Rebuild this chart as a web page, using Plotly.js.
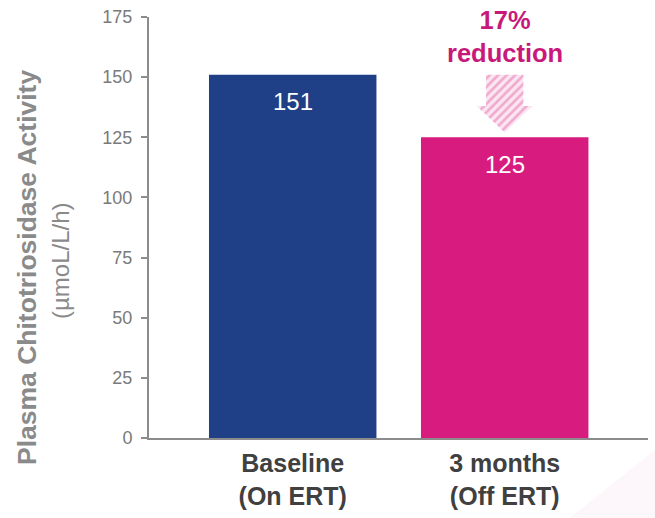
<!DOCTYPE html>
<html>
<head>
<meta charset="utf-8">
<script src="https://cdn.plot.ly/plotly-3.0.1.min.js"></script>
<style>
  html, body { margin: 0; padding: 0; background: #ffffff; }
  #chart { width: 655px; height: 518px; }
</style>
</head>
<body>
<div id="chart"></div>
<script>
// Plasma chitotriosidase activity before and after stopping ERT
const categories = ['Baseline<br>(On ERT)', '3 months<br>(Off ERT)'];
const values = [151, 125];
const barColors = ['#1f3f87', '#d81b7f'];
const yTicks = [0, 25, 50, 75, 100, 125, 150, 175];
const changeLabel = '17%<br>reduction';

const xs = categories.map((_, i) => i);
const FONT = 'Liberation Sans';

// Hatched down-arrow between the two bar heights, centred on the second bar
const arrowTop = values[0];
const arrowTip = values[1] + 2;
const arrowNeck = arrowTip + 11;
const cx = xs[1], shaftW = 0.088, headW = 0.132;
const arrowX = [cx - shaftW, cx + shaftW, cx + shaftW, cx + headW, cx, cx - headW, cx - shaftW, cx - shaftW];
const arrowY = [arrowTop, arrowTop, arrowNeck, arrowNeck, arrowTip, arrowNeck, arrowNeck, arrowTop];

const traces = [
  {
    type: 'bar',
    x: xs,
    y: values,
    width: 0.79,
    marker: { color: barColors, line: { width: 0 } },
    hoverinfo: 'skip'
  },
  {
    type: 'scatter',
    mode: 'lines',
    x: arrowX,
    y: arrowY,
    fill: 'toself',
    fillcolor: '#fbe1ee',
    fillpattern: { shape: '/', fgcolor: '#f0a8ce', bgcolor: '#fbe6f1', size: 6, solidity: 0.42 },
    line: { width: 0, color: 'rgba(0,0,0,0)' },
    hoverinfo: 'skip'
  }
];

const annotations = values.map((v, i) => ({
  x: xs[i], y: v, xref: 'x', yref: 'y',
  text: String(v), showarrow: false,
  yanchor: 'middle', yshift: -27,
  font: { family: FONT, size: 24, color: '#ffffff' }
}));

annotations.push({
  x: xs[1], y: 1, xref: 'x', yref: 'paper',
  text: '<b>' + changeLabel + '</b>', showarrow: false,
  yanchor: 'middle', yshift: -19,
  font: { family: FONT, size: 25.5, color: '#c8197a' }
});

const W = 655, H = 518, M = { l: 149, r: 7, t: 17, b: 80 };
const px2x = p => (p - M.l) / (W - M.l - M.r);
const px2y = p => 1 - (p - M.t) / (H - M.t - M.b);

// two-line y-axis title
annotations.push({
  x: px2x(27), y: px2y(268), xref: 'paper', yref: 'paper',
  xanchor: 'center', yanchor: 'middle',
  text: '<b>Plasma Chitotriosidase Activity</b>', showarrow: false, textangle: -90,
  font: { family: FONT, size: 26.5, color: '#8a8a8a' }
});
annotations.push({
  x: px2x(60), y: px2y(261), xref: 'paper', yref: 'paper',
  xanchor: 'center', yanchor: 'middle',
  text: '(µmoL/L/h)', showarrow: false, textangle: -90,
  font: { family: FONT, size: 24, color: '#8a8a8a' }
});

const layout = {
  width: W,
  height: H,
  margin: M,
  paper_bgcolor: '#ffffff',
  plot_bgcolor: 'rgba(0,0,0,0)',
  showlegend: false,
  xaxis: {
    range: [-0.678, 1.676],
    tickvals: xs,
    ticktext: categories.map(c => '<b>' + c + '</b>'),
    ticks: '',
    showline: true,
    linecolor: '#8c8c8c',
    linewidth: 2,
    showgrid: false,
    zeroline: false,
    tickfont: { family: FONT, size: 25, color: '#404040' },
    ticklabelstandoff: 2,
    fixedrange: true
  },
  yaxis: {
    range: [0, 175],
    tickvals: yTicks,
    ticks: 'outside',
    ticklen: 6,
    tickwidth: 2,
    tickcolor: '#8c8c8c',
    showline: true,
    linecolor: '#8c8c8c',
    linewidth: 2,
    showgrid: false,
    zeroline: false,
    tickfont: { family: FONT, size: 18, color: '#7a7a7a' },
    ticklabelstandoff: 5,
    fixedrange: true
  },
  shapes: [
    {
      // faint pink wash in the lower-right corner
      type: 'path', xref: 'paper', yref: 'paper', layer: 'below',
      path: 'M ' + px2x(570) + ' ' + px2y(518) +
            ' L ' + px2x(655) + ' ' + px2y(450) +
            ' L ' + px2x(655) + ' ' + px2y(518) + ' Z',
      fillcolor: 'rgba(245,205,225,0.18)',
      line: { width: 0 }
    }
  ],
  annotations: annotations
};

Plotly.newPlot('chart', traces, layout, { displayModeBar: false, staticPlot: true });
</script>
</body>
</html>
